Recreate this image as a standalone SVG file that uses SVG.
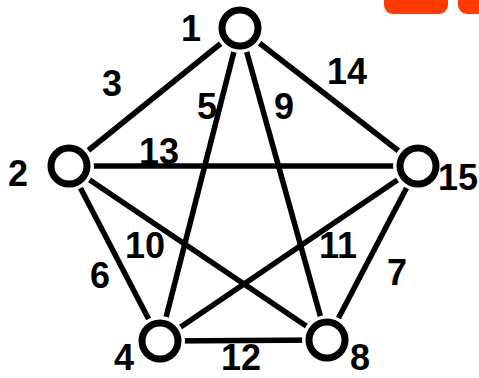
<svg xmlns="http://www.w3.org/2000/svg" width="479" height="378" viewBox="0 0 479 378">
<style>
.e{stroke:#000;stroke-width:5.5;fill:none}
.halo{fill:#fff}
.n{fill:#fff;stroke:#000;stroke-width:7}
.t{font-family:"Liberation Sans",Arial,sans-serif;font-weight:bold;font-size:36px;fill:#000;text-anchor:middle}
.o{fill:#ff3c00}
</style>
<rect width="479" height="378" fill="#fff"/>
<rect class="o" x="384" y="-20" width="64" height="34" rx="9"/>
<rect class="o" x="458" y="-20" width="40" height="34" rx="9"/>
<g id="connectors">
<line class="e" x1="240" y1="28" x2="69" y2="166"/>
<line class="e" x1="240" y1="28" x2="418" y2="166"/>
<line class="e" x1="240" y1="28" x2="160" y2="341"/>
<line class="e" x1="240" y1="28" x2="327" y2="340"/>
<line class="e" x1="69" y1="166" x2="418" y2="166"/>
<line class="e" x1="69" y1="166" x2="160" y2="341"/>
<line class="e" x1="69" y1="166" x2="327" y2="340"/>
<line class="e" x1="418" y1="166" x2="160" y2="341"/>
<line class="e" x1="418" y1="166" x2="327" y2="340"/>
<line class="e" x1="160" y1="341" x2="327" y2="340"/>
</g>
<g id="edge-labels">
<text class="t" x="112" y="96">3</text>
<text class="t" x="347" y="84">14</text>
<text class="t" x="207" y="119">5</text>
<text class="t" x="284" y="119">9</text>
<text class="t" x="159" y="164">13</text>
<text class="t" x="145" y="258">10</text>
<text class="t" x="338" y="258">11</text>
<text class="t" x="100" y="288">6</text>
<text class="t" x="397" y="285">7</text>
<text class="t" x="241" y="370">12</text>
</g>
<g id="node-1"><circle class="halo" cx="240" cy="28" r="25"/><circle class="n" cx="240" cy="28" r="18"/><text class="t" x="191" y="41">1</text></g>
<g id="node-2"><circle class="halo" cx="69" cy="166" r="25"/><circle class="n" cx="69" cy="166" r="18"/><text class="t" x="18" y="186">2</text></g>
<g id="node-15"><circle class="halo" cx="418" cy="166" r="25"/><circle class="n" cx="418" cy="166" r="18"/><text class="t" x="458" y="190">15</text></g>
<g id="node-4"><circle class="halo" cx="160" cy="341" r="25"/><circle class="n" cx="160" cy="341" r="18"/><text class="t" x="124" y="370">4</text></g>
<g id="node-8"><circle class="halo" cx="327" cy="340" r="25"/><circle class="n" cx="327" cy="340" r="18"/><text class="t" x="360" y="370">8</text></g>
</svg>
